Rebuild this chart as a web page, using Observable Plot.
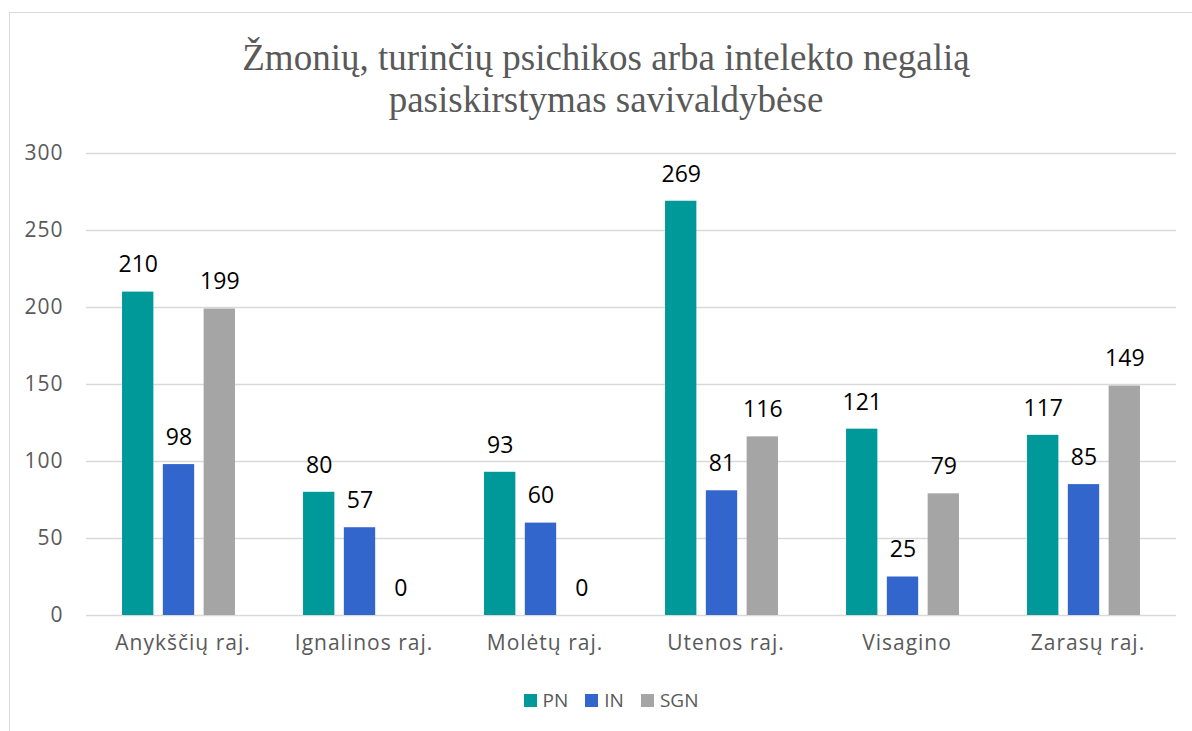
<!DOCTYPE html>
<html>
<head>
<meta charset="utf-8">
<script src="https://cdn.jsdelivr.net/npm/d3@7"></script>
<script src="https://cdn.jsdelivr.net/npm/@observablehq/plot@0.6"></script>
<style>
  html, body { margin: 0; padding: 0; background: #fff; }
  body { width: 1192px; height: 731px; position: relative; overflow: hidden; font-family: "Open Sans", sans-serif; }
  #frame { position: absolute; left: 9px; top: 12px; width: 1300px; height: 800px; border: 1px solid #d9d9d9; box-sizing: border-box; }
  #title { position: absolute; left: 0; width: 1212px; top: 37px; text-align: center; font-family: "Liberation Serif", serif; font-size: 37px; line-height: 42px; color: #595959; }
  #chart { position: absolute; left: 0; top: 130px; }
  #chart g[aria-label="y-axis tick label"] text, #chart g[aria-label="x-axis tick label"] text { letter-spacing: 1px; }
  #legend { position: absolute; left: 0; width: 1192px; top: 687px; display: flex; justify-content: center; gap: 17px; font-size: 19px; color: #595959; padding-left: 30px; box-sizing: border-box; }
  #legend .item { display: flex; align-items: center; gap: 6px; }
  #legend .sw { width: 13px; height: 13px; display: inline-block; }
</style>
</head>
<body>
<div id="frame"></div>
<div id="title">Žmonių, turinčių psichikos arba intelekto negalią<br>pasiskirstymas savivaldybėse</div>
<div id="chart"></div>
<div id="legend"></div>
<script>
const categories = ["Anykščių raj.", "Ignalinos raj.", "Molėtų raj.", "Utenos raj.", "Visagino", "Zarasų raj."];
const seriesNames = ["PN", "IN", "SGN"];
const seriesColors = ["#009999", "#3366cc", "#a5a5a5"];
const pnValues = [210, 80, 93, 269, 121, 117];
const inValues = [98, 57, 60, 81, 25, 85];
const sgnValues = [199, 0, 0, 116, 79, 149];
const yTicks = [0, 50, 100, 150, 200, 250, 300];

const seriesValues = [pnValues, inValues, sgnValues];
const band = 1090 / categories.length;
const barW = 32;
const step = 40.8;

const marks = [
  Plot.gridY(yTicks, {stroke: "#d9d9d9", strokeOpacity: 1, strokeWidth: 1.3})
];
seriesValues.forEach((vals, s) => {
  const data = categories.map((c, i) => ({cat: c, v: vals[i]}));
  const center = band / 2 + (s - 1) * step;
  const left = center - barW / 2;
  const right = band - left - barW;
  marks.push(Plot.barY(data, {x: "cat", y: "v", fill: seriesColors[s], insetLeft: left, insetRight: right}));
  marks.push(Plot.text(data, {x: "cat", y: "v", text: d => String(d.v), dx: (s - 1) * step, dy: -27, fontSize: 23, fill: "#000"}));
});

const chart = Plot.plot({
  width: 1192,
  height: 542,
  marginLeft: 86,
  marginRight: 16,
  marginTop: 23,
  marginBottom: 57,
  style: {fontFamily: "'Open Sans', sans-serif", background: "transparent", overflow: "visible"},
  x: {type: "band", domain: categories, padding: 0, label: null},
  y: {domain: [0, 300], ticks: yTicks, label: null},
  marks: [
    ...marks,
    Plot.axisY({ticks: yTicks, tickSize: 0, tickPadding: 23, fontSize: 21, color: "#595959", label: null}),
    Plot.axisX({tickSize: 0, tickPadding: 20, fontSize: 21, dx: 4, color: "#595959", label: null})
  ]
});
document.getElementById("chart").appendChild(chart);

const legend = document.getElementById("legend");
seriesNames.forEach((n, i) => {
  const item = document.createElement("div");
  item.className = "item";
  const sw = document.createElement("span");
  sw.className = "sw";
  sw.style.background = seriesColors[i];
  const t = document.createElement("span");
  t.textContent = n;
  item.appendChild(sw);
  item.appendChild(t);
  legend.appendChild(item);
});
</script>
</body>
</html>
